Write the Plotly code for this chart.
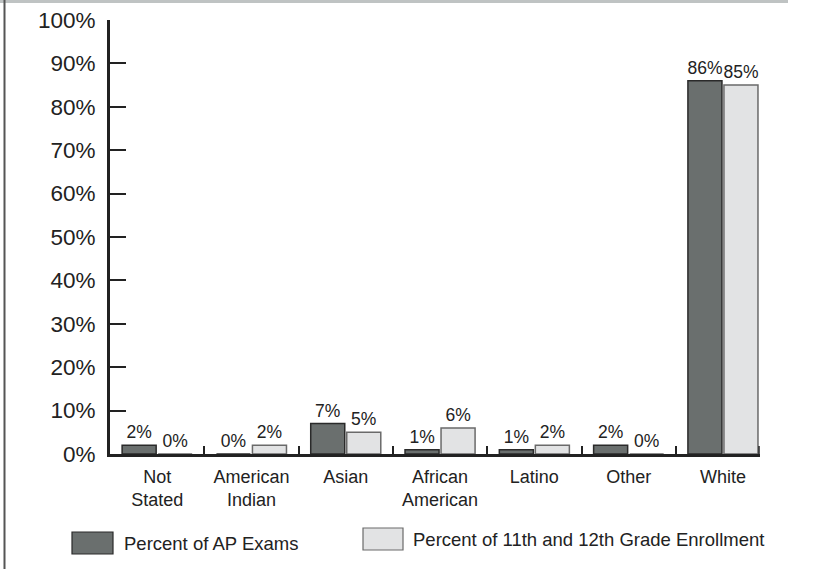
import plotly.graph_objects as go

categories = ["Not<br>Stated", "American<br>Indian", "Asian", "African<br>American", "Latino", "Other", "White"]
ap_exams = [2, 0, 7, 1, 1, 2, 86]
enrollment = [0, 2, 5, 6, 2, 0, 85]
y_ticks = [0, 10, 20, 30, 40, 50, 60, 70, 80, 90, 100]
series_names = ["Percent of AP Exams", "Percent of 11th and 12th Grade Enrollment"]

FONT = "Liberation Sans, Arial, Helvetica, sans-serif"
DARK = "#6a6f6e"
LIGHT = "#e2e3e4"
INK = "#222222"

fig = go.Figure()
fig.add_trace(go.Bar(
    x=categories, y=ap_exams, name=series_names[0],
    marker=dict(color=DARK, line=dict(color="#2a2a2a", width=1.5)),
    text=[f"{v}%" for v in ap_exams], textposition="outside", constraintext="none",
    textfont=dict(size=17.5, color=INK, family=FONT), cliponaxis=False,
))
fig.add_trace(go.Bar(
    x=categories, y=enrollment, name=series_names[1],
    marker=dict(color=LIGHT, line=dict(color="#6a6a6a", width=1.5)),
    text=[f"{v}%" for v in enrollment], textposition="outside", constraintext="none",
    textfont=dict(size=17.5, color=INK, family=FONT), cliponaxis=False,
))

L, R, T, B = 110, 70, 20, 115
W, H = 830, 569
pw, ph = W - L - R, H - T - B
cat_w = 94.3  # pixels per category

def px(x):
    return (x - L) / pw

def py(y):
    return (H - B - y) / ph

shapes = [
    # top grey rule
    dict(type="rect", xref="paper", yref="paper", x0=px(0), x1=px(788), y0=py(0), y1=py(3),
         fillcolor="#bfc3c3", line=dict(width=0), layer="above"),
    # left dark rule
    dict(type="line", xref="paper", yref="paper", x0=px(4.5), x1=px(4.5), y0=py(0), y1=py(569),
         line=dict(color="#555555", width=2)),
    # end tick of x axis
    dict(type="line", xref="paper", yref="paper", x0=px(759), x1=px(759), y0=0, y1=py(446),
         line=dict(color=INK, width=1.5)),
    # legend swatches
    dict(type="rect", xref="paper", yref="paper", x0=px(72), x1=px(113), y0=py(532), y1=py(554),
         fillcolor=DARK, line=dict(color="#2a2a2a", width=1.2)),
    dict(type="rect", xref="paper", yref="paper", x0=px(363), x1=px(403), y0=py(528), y1=py(550),
         fillcolor=LIGHT, line=dict(color="#6a6a6a", width=1.2)),
]
annotations = [
    dict(xref="paper", yref="paper", x=px(122), y=py(543), text=series_names[0], showarrow=False,
         xanchor="left", yanchor="middle", font=dict(size=18.5, color=INK, family=FONT)),
    dict(xref="paper", yref="paper", x=px(411), y=py(539), text=series_names[1], showarrow=False,
         xanchor="left", yanchor="middle", font=dict(size=18.5, color=INK, family=FONT)),
]

fig.update_layout(
    width=W, height=H,
    margin=dict(l=L, r=R, t=T, b=B, autoexpand=False),
    paper_bgcolor="white", plot_bgcolor="white",
    barmode="group", bargap=0.236, bargroupgap=0.055,
    showlegend=False,
    font=dict(family=FONT, color=INK),
    shapes=shapes, annotations=annotations,
    xaxis=dict(
        range=[-0.5, -0.5 + pw / cat_w],
        showline=True, linecolor=INK, linewidth=3,
        ticks="inside", tickson="boundaries", ticklen=8, tickwidth=1.5, tickcolor=INK,
        tickfont=dict(size=18, color=INK, family=FONT),
        ticklabelstandoff=4,
        showgrid=False, zeroline=False, fixedrange=True,
    ),
    yaxis=dict(
        range=[0, 100], tickvals=y_ticks, ticktext=[f"{v}%" for v in y_ticks],
        showline=True, linecolor=INK, linewidth=3,
        ticks="inside", ticklen=16, tickwidth=1.5, tickcolor=INK,
        tickfont=dict(size=22.5, color=INK, family=FONT),
        ticklabelstandoff=7,
        showgrid=False, zeroline=False, fixedrange=True,
    ),
)

fig.write_html(
    "out.html",
    config={"displayModeBar": False},
    post_script="document.body.style.margin='0';document.body.style.overflow='hidden';",
)
